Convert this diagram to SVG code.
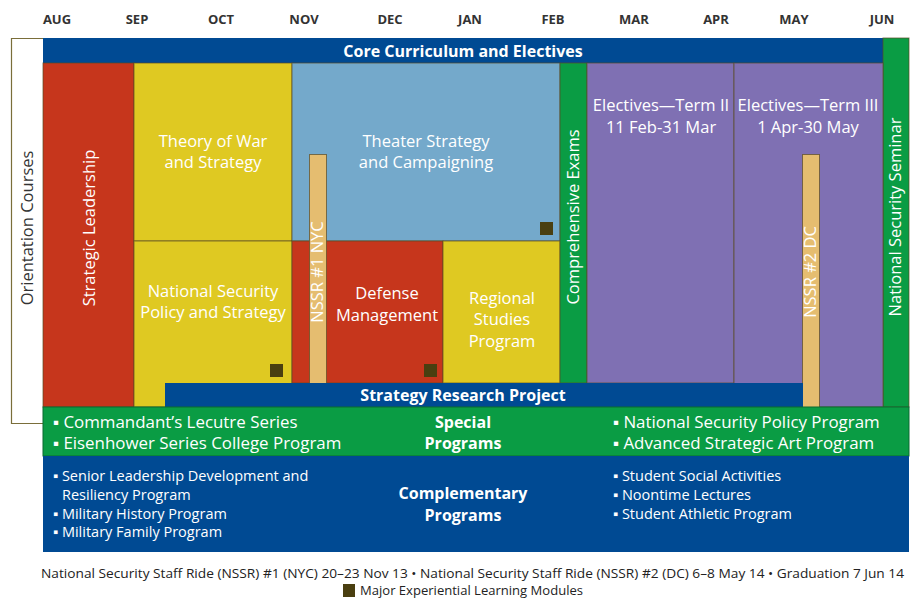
<svg xmlns="http://www.w3.org/2000/svg" width="917" height="598" viewBox="0 0 917 598">
<style>
.mo{font-family:"Open Sans","Noto Sans",sans-serif;font-weight:700;font-size:13px;fill:#333;text-anchor:middle}
.cell{stroke:#5a4a22;stroke-opacity:0.7;stroke-width:1}
.t{font-family:"Open Sans","Noto Sans",sans-serif;font-size:16.5px;fill:#fff;text-anchor:middle}
.tb{font-family:"Open Sans","Noto Sans",sans-serif;font-size:16px;font-weight:700;fill:#fff;text-anchor:middle}
.b17{font-family:"Open Sans","Noto Sans",sans-serif;font-size:16.9px;fill:#fff}
.b15{font-family:"Open Sans","Noto Sans",sans-serif;font-size:14.5px;fill:#fff}
.ft{font-family:"Open Sans","Noto Sans",sans-serif;font-size:13px;fill:#222}
.sq{fill:#4a3f10}
.red{fill:#c6361c}.yel{fill:#dfc922}.lb{fill:#74a9cb}.grn{fill:#0a9c44}.pur{fill:#7f70b3}.blu{fill:#004a93}.tan{fill:#e5bd70}
</style>
<g id="months">
<text class="mo" x="57" y="24">AUG</text>
<text class="mo" x="137" y="24">SEP</text>
<text class="mo" x="221" y="24">OCT</text>
<text class="mo" x="304" y="24">NOV</text>
<text class="mo" x="390" y="24">DEC</text>
<text class="mo" x="470" y="24">JAN</text>
<text class="mo" x="553" y="24">FEB</text>
<text class="mo" x="634" y="24">MAR</text>
<text class="mo" x="716" y="24">APR</text>
<text class="mo" x="794" y="24">MAY</text>
<text class="mo" x="882" y="24">JUN</text>
</g>
<g id="orientation">
<path d="M43 38.5 H11.5 V423.5 H43" fill="#fff" stroke="#7a6e3a" stroke-width="1.2"/>
<text class="t" fill="#333" style="fill:#333" transform="translate(33 228) rotate(-90)">Orientation Courses</text>
</g>
<g id="core">
<rect class="blu" x="43" y="38" width="840" height="25"/>
<text class="tb" x="463" y="57">Core Curriculum and Electives</text>
</g>
<g id="nss">
<rect class="grn cell" x="883" y="38" width="26" height="369"/>
<text class="t" font-size="15" transform="translate(901 217) rotate(-90)">National Security Seminar</text>
</g>
<g id="strategic-leadership">
<rect class="red cell" x="43" y="63" width="91" height="344"/>
<text class="t" transform="translate(95 228) rotate(-90)">Strategic Leadership</text>
</g>
<g id="theory-of-war">
<rect class="yel cell" x="134" y="63" width="158" height="178"/>
<text class="t" x="213" y="147">Theory of War</text>
<text class="t" x="213" y="168">and Strategy</text>
</g>
<g id="nsps">
<rect class="yel cell" x="134" y="241" width="158" height="166"/>
<text class="t" x="213" y="297">National Security</text>
<text class="t" x="213" y="318">Policy and Strategy</text>
<rect class="sq" x="270" y="364" width="13" height="13"/>
</g>
<g id="theater">
<rect class="lb cell" x="292" y="63" width="268" height="178"/>
<text class="t" x="426" y="147">Theater Strategy</text>
<text class="t" x="426" y="168">and Campaigning</text>
<rect class="sq" x="540" y="222" width="13" height="13"/>
</g>
<g id="defense">
<rect class="red cell" x="292" y="241" width="151" height="142"/>
<text class="t" x="387" y="299">Defense</text>
<text class="t" x="387" y="321">Management</text>
<rect class="sq" x="424" y="364" width="13" height="13"/>
</g>
<g id="nssr1">
<rect class="tan cell" x="309.5" y="154.5" width="17" height="229"/>
<text class="t" font-size="13" transform="translate(323 272) rotate(-90)">NSSR  #1 NYC</text>
</g>
<g id="regional">
<rect class="yel cell" x="443" y="241" width="117" height="142"/>
<text class="t" x="502" y="304">Regional</text>
<text class="t" x="502" y="325">Studies</text>
<text class="t" x="502" y="347">Program</text>
</g>
<g id="comp-exams">
<rect class="grn cell" x="560" y="63" width="27" height="320"/>
<text class="t" font-size="14" transform="translate(579 217) rotate(-90)">Comprehensive Exams</text>
</g>
<g id="electives2">
<rect class="pur cell" x="587" y="63" width="147" height="320"/>
<text class="t" x="661" y="111">Electives—Term II</text>
<text class="t" x="661" y="133">11 Feb-31 Mar</text>
</g>
<g id="electives3">
<rect class="pur cell" x="734" y="63" width="149" height="344"/>
<text class="t" x="808" y="111">Electives—Term III</text>
<text class="t" x="808" y="133">1 Apr-30 May</text>
</g>
<g id="nssr2">
<rect class="tan cell" x="802.5" y="154.5" width="17" height="253"/>
<text class="t" font-size="13" transform="translate(816 272) rotate(-90)">NSSR  #2 DC</text>
</g>
<g id="srp">
<rect class="blu" x="165" y="383" width="638" height="24"/>
<text class="tb" x="463" y="401">Strategy Research Project</text>
</g>
<g id="special">
<rect class="grn" x="43" y="407" width="866" height="49" stroke="#0a6a30" stroke-width="1"/>
<text class="b17" x="53" y="428">▪ Commandant’s Lecutre Series</text>
<text class="b17" x="53" y="449">▪ Eisenhower Series College Program</text>
<text class="tb" x="463" y="428">Special</text>
<text class="tb" x="463" y="449">Programs</text>
<text class="b17" x="613" y="428">▪ National Security Policy Program</text>
<text class="b17" x="613" y="449">▪ Advanced Strategic Art Program</text>
</g>
<g id="complementary">
<rect class="blu" x="43" y="456" width="866" height="96"/>
<text class="b15" x="53" y="481">▪ Senior Leadership Development and</text>
<text class="b15" x="62" y="500">Resiliency Program</text>
<text class="b15" x="53" y="519">▪ Military History Program</text>
<text class="b15" x="53" y="537">▪ Military Family Program</text>
<text class="tb" x="463" y="499">Complementary</text>
<text class="tb" x="463" y="521">Programs</text>
<text class="b15" x="613" y="481">▪ Student Social Activities</text>
<text class="b15" x="613" y="500">▪ Noontime Lectures</text>
<text class="b15" x="613" y="519">▪ Student Athletic Program</text>
</g>
<g id="footer">
<text class="ft" x="41" y="578" textLength="863" lengthAdjust="spacingAndGlyphs">National Security Staff Ride (NSSR) #1 (NYC) 20–23 Nov 13 • National Security Staff Ride (NSSR) #2 (DC) 6–8 May 14 • Graduation 7 Jun 14</text>
<rect class="sq" x="343" y="584" width="12" height="13"/>
<text class="ft" x="360" y="595" textLength="223" lengthAdjust="spacingAndGlyphs">Major Experiential Learning Modules</text>
</g>
<g id="connectors"></g>
</svg>
